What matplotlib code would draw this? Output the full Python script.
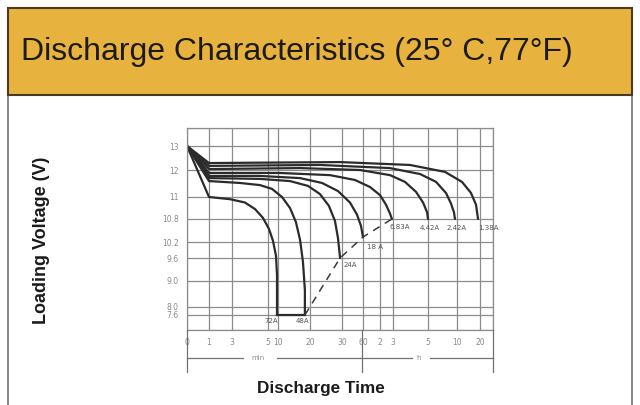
import numpy as np
import matplotlib.pyplot as plt
from matplotlib.patches import Rectangle
from matplotlib.lines import Line2D

# the sheet's axes are hand drawn (not linear, not log):
# tick values and where each one sits, in pixels from the axes corner
time_ticks = [0, 1, 3, 5, 10, 20, 30, 60, 120, 180, 300, 600, 1200, 1500]
time_pos = [0, 22, 45, 81, 91, 123, 155, 176, 193, 206, 241, 270, 293, 306]
time_labels = ['0', '1', '3', '5', '10', '20', '30', '60', '2', '3', '5', '10', '20', '']

volt_ticks = [7.0, 7.6, 8.0, 9.0, 9.6, 10.2, 10.8, 11.0, 12.0, 13.0, 13.6]
volt_pos = [0, 15, 23, 49, 72, 88, 111, 133, 160, 184, 202]
volt_labels = ['', '7.6', '8.0', '9.0', '9.6', '10.2', '10.8', '11', '12', '13', '']

# discharge curves, time in minutes, voltage in V
curve_names = ['72A', '48A', '24A', '18 A', '6.83A', '4.42A', '2.42A', '1.38A']
curve_t = [
    [0, 1, 2.83, 3.72, 4.28, 4.72, 5.5, 7.5, 9.0, 9.5, 9.5],
    [0, 1, 3.44, 4.56, 7.0, 11.25, 13.75, 15.6, 16.9, 17.8, 18.4, 18.4],
    [0, 1, 4.56, 13.75, 19.4, 23.1, 25.9, 27.8, 28.75, 29.4],
    [0, 1, 4.56, 16.9, 23.75, 28.75, 41.4, 51.4, 57.1, 60],
    [0, 1, 10.6, 26.25, 48.6, 84.7, 120, 147.7, 166, 175],
    [0, 1, 16.9, 55.7, 166, 221, 259, 283, 297, 300],
    [0, 1, 23.1, 166, 273, 383, 486, 538, 569, 579],
    [0, 1, 29.4, 238, 476, 730, 965, 1096, 1148],
]
curve_v = [
    [13.0, 11.0, 10.98, 10.95, 10.89, 10.81, 10.54, 10.23, 9.68, 9.16, 7.6],
    [13.0, 11.59, 11.52, 11.44, 11.30, 11.0, 10.9, 10.72, 10.25, 9.5, 8.65, 7.6],
    [13.0, 11.70, 11.67, 11.59, 11.41, 11.11, 10.92, 10.75, 10.30, 9.6],
    [13.0, 11.78, 11.78, 11.70, 11.52, 11.22, 10.95, 10.84, 10.62, 10.33],
    [13.0, 11.89, 11.89, 11.81, 11.63, 11.37, 11.07, 10.93, 10.85, 10.8],
    [13.0, 12.04, 12.08, 12.0, 11.81, 11.56, 11.19, 10.95, 10.86, 10.8],
    [13.0, 12.17, 12.21, 12.08, 11.85, 11.56, 11.15, 10.94, 10.86, 10.8],
    [13.0, 12.29, 12.33, 12.21, 11.93, 11.56, 11.15, 10.93, 10.8],
]
# where each name sits relative to the end of its curve (pixels)
label_offsets = [(-6, -6), (-2, -6), (10, -7), (12, -10), (-2, -8), (-8, -9), (-8, -9), (0, -9)]
label_ha = ['center', 'center', 'center', 'center', 'left', 'left', 'left', 'left']


def t_fwd(t):
    return np.interp(t, time_ticks, time_pos)


def t_inv(p):
    return np.interp(p, time_pos, time_ticks)


def v_fwd(v):
    return np.interp(v, volt_ticks, volt_pos)


def v_inv(p):
    return np.interp(p, volt_pos, volt_ticks)


W, H = 640.0, 405.0


def fx(px):
    return px / W


def fy(py):
    return 1 - py / H


fig = plt.figure(figsize=(6.4, 4.05), dpi=100)
fig.patch.set_facecolor('white')

# white panel and the orange header band
fig.add_artist(Rectangle((fx(8), fy(430)), fx(632) - fx(8), fy(8) - fy(430),
                         transform=fig.transFigure, facecolor='white',
                         edgecolor='#707070', lw=1.2, zorder=0))
fig.add_artist(Rectangle((fx(8), fy(95)), fx(632) - fx(8), fy(8) - fy(95),
                         transform=fig.transFigure, facecolor='#E8B23F',
                         edgecolor='#4a3b20', lw=1.5, zorder=1))
fig.text(fx(21), fy(52), 'Discharge Characteristics (25° C,77°F)', fontsize=23,
         family='Liberation Sans', color='#1b1b1b', ha='left', va='center')

ax = fig.add_axes([fx(187), fy(330), fx(493) - fx(187), fy(128) - fy(330)])
ax.set_xscale('function', functions=(t_fwd, t_inv))
ax.set_yscale('function', functions=(v_fwd, v_inv))
ax.set_xlim(time_ticks[0], time_ticks[-1])
ax.set_ylim(volt_ticks[0], volt_ticks[-1])
ax.set_xticks(time_ticks)
ax.set_xticklabels(time_labels)
ax.set_yticks(volt_ticks)
ax.set_yticklabels(volt_labels)
ax.minorticks_off()
ax.tick_params(length=0, labelsize=5.5, labelcolor='#8a8a8a')
ax.tick_params(axis='y', pad=6)
ax.tick_params(axis='x', pad=6)
ax.grid(True, color='#8c8c8c', lw=0.9)
ax.set_axisbelow(True)
for s in ax.spines.values():
    s.set_color('#8c8c8c')
    s.set_linewidth(0.9)

for i in range(len(curve_names)):
    ax.plot(curve_t[i], curve_v[i], color='#2b2b2b', lw=1.6,
            solid_capstyle='round', solid_joinstyle='round')
    ax.annotate(curve_names[i], (curve_t[i][-1], curve_v[i][-1]),
                xytext=label_offsets[i], textcoords='offset pixels',
                ha=label_ha[i], va='center', fontsize=5, color='#555555')

# end voltage line: solid along the bottom, dashed up through the curve ends
end_t = [c[-1] for c in curve_t[:5]]
end_v = [c[-1] for c in curve_v[:5]]
ax.plot(end_t[:2], end_v[:2], color='#2b2b2b', lw=1.6)
ax.plot(end_t[1:], end_v[1:], color='#3a3a3a', lw=1.1, ls=(0, (5, 4)))

# min / h brackets under the time axis
lc = '#707070'
for xs, ys in [([187, 243], [358, 358]), ([277, 412], [358, 358]), ([430, 493], [358, 358]),
               ([187, 187], [330, 372]), ([362, 362], [330, 372]), ([493, 493], [330, 372])]:
    fig.add_artist(Line2D([fx(x) for x in xs], [fy(y) for y in ys],
                          transform=fig.transFigure, color=lc, lw=0.9))
fig.text(fx(258), fy(358), 'min', fontsize=5, color='#8a8a8a', ha='center', va='center')
fig.text(fx(419), fy(358), 'h', fontsize=5, color='#8a8a8a', ha='center', va='center')

fig.text(fx(42), fy(240), 'Loading Voltage (V)', rotation=90, fontsize=13,
         fontweight='bold', family='Liberation Sans', color='#1b1b1b',
         ha='center', va='center')
fig.text(fx(321), fy(388), 'Discharge Time', fontsize=12.3, fontweight='bold',
         family='Liberation Sans', color='#1b1b1b', ha='center', va='center')

fig.savefig('out.png', dpi=100)
